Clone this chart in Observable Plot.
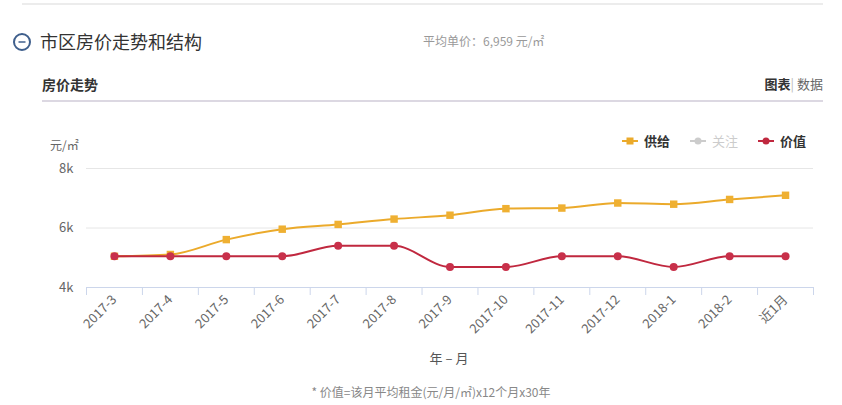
<!DOCTYPE html>
<html>
<head>
<meta charset="utf-8">
<script src="https://cdn.jsdelivr.net/npm/d3@7"></script>
<script src="https://cdn.jsdelivr.net/npm/@observablehq/plot@0.6"></script>
<style>
  html, body { margin: 0; padding: 0; background: #fff; }
  body { width: 842px; height: 405px; position: relative; overflow: hidden;
         font-family: "Noto Sans CJK SC", "Noto Sans", sans-serif; color: #333; }
  .abs { position: absolute; white-space: nowrap; }
  #chart svg { position: absolute; left: 0; top: 110px; }
</style>
</head>
<body>
<div class="abs" style="left:22px;top:3px;width:801px;border-top:2px solid #ececec;"></div>
<svg class="abs" style="left:12px;top:32px" width="20" height="20">
  <circle cx="10" cy="10" r="8" fill="none" stroke="#3f5f8c" stroke-width="2"/>
  <line x1="6.5" y1="10" x2="13.5" y2="10" stroke="#3f5f8c" stroke-width="1.5"/>
</svg>
<div class="abs" style="left:40px;top:29px;font-size:18px;line-height:24px;color:#333;">市区房价走势和结构</div>
<div class="abs" style="left:423px;top:33px;font-size:12px;line-height:16px;color:#999;">平均单价：6,959 元/㎡</div>
<div class="abs" style="left:42px;top:74px;font-size:14px;line-height:20px;font-weight:bold;color:#333;">房价走势</div>
<div class="abs" style="right:19px;top:75px;font-size:13px;line-height:18px;color:#666;"><b style="color:#333">图表</b><span style="color:#bbb">|</span> 数据</div>
<div class="abs" style="left:42px;top:100px;width:781px;height:2px;background:#dcd8e2;"></div>
<div class="abs" style="left:50px;top:137px;font-size:12px;line-height:16px;color:#666;">元/㎡</div>
<div id="legend" class="abs" style="left:622px;top:132px;font-size:13px;line-height:18px;"></div>
<div id="chart"></div>
<div class="abs" style="left:449px;top:349px;transform:translateX(-50%);font-size:13px;line-height:18px;color:#555;">年 – 月</div>
<div class="abs" style="left:431px;top:384px;transform:translateX(-50%);font-size:12px;line-height:16px;color:#888;">* 价值=该月平均租金(元/月/㎡)x12个月x30年</div>
<script>
const categories = ["2017-3","2017-4","2017-5","2017-6","2017-7","2017-8","2017-9","2017-10","2017-11","2017-12","2018-1","2018-2","近1月"];
const supplyValues = [5050, 5110, 5610, 5960, 6120, 6300, 6430, 6650, 6670, 6840, 6800, 6960, 7100];
const valueValues  = [5050, 5050, 5050, 5050, 5400, 5400, 4690, 4690, 5050, 5050, 4690, 5050, 5050];
const yTicks = [4000, 6000, 8000];
const seriesNames = ["供给", "关注", "价值"];
const seriesColors = ["#ebaa2b", "#cccccc", "#c0283f"];

const supply = categories.map((c, i) => ({month: c, v: supplyValues[i]}));
const value = categories.map((c, i) => ({month: c, v: valueValues[i]}));

const W = 842, H = 295, mL = 86, mR = 29, mT = 58, mB = 118;
const step = (W - mL - mR) / categories.length;

const chart = Plot.plot({
  width: W, height: H,
  marginLeft: mL, marginRight: mR, marginTop: mT, marginBottom: mB,
  style: {fontFamily: '"Noto Sans CJK SC", "Noto Sans", sans-serif', fontSize: "13px", color: "#666", background: "transparent"},
  x: {type: "point", domain: categories, padding: 0.5, round: false, tickSize: 0, tickPadding: 10, tickRotate: -45, label: null},
  y: {domain: [4000, 8000], ticks: yTicks, tickFormat: d => d / 1000 + "k", tickSize: 0, tickPadding: 13, label: null},
  marks: [
    Plot.ruleY([6000, 8000], {stroke: "#e6e6e6"}),
    Plot.ruleY([4000], {stroke: "#ccd6eb"}),
    Plot.ruleX(categories, {x: d => d, y1: 4000, y2: 4000, dx: -step / 2, insetBottom: -8, stroke: "#ccd6eb"}),
    Plot.ruleX([categories[categories.length - 1]], {x: d => d, y1: 4000, y2: 4000, dx: step / 2, insetBottom: -8, stroke: "#ccd6eb"}),
    Plot.line(supply, {x: "month", y: "v", stroke: seriesColors[0], strokeWidth: 2, curve: "monotone-x"}),
    Plot.dot(supply, {x: "month", y: "v", symbol: "square", r: 4.2, fill: "#efb032", stroke: null}),
    Plot.line(value, {x: "month", y: "v", stroke: seriesColors[2], strokeWidth: 2, curve: "monotone-x"}),
    Plot.dot(value, {x: "month", y: "v", r: 4, fill: "#c8304a", stroke: null})
  ]
});
document.getElementById("chart").appendChild(chart);

// legend
const legend = document.getElementById("legend");
const symbols = ["square", "circle", "circle"];
const offsets = [0, 68, 136];
seriesNames.forEach((name, i) => {
  const item = document.createElement("div");
  item.className = "abs";
  item.style.left = offsets[i] + "px";
  item.style.top = "0px";
  item.style.display = "flex";
  item.style.alignItems = "center";
  const mark = symbols[i] === "square"
    ? `<rect x="4.5" y="5.5" width="7" height="7" fill="${seriesColors[i]}"/>`
    : `<circle cx="8" cy="9" r="3.5" fill="${seriesColors[i]}"/>`;
  item.innerHTML = `<svg width="16" height="18"><line x1="0" y1="9" x2="16" y2="9" stroke="${seriesColors[i]}" stroke-width="2"/>${mark}</svg>` +
    `<span style="margin-left:6px;font-weight:${i === 1 ? "normal" : "bold"};color:${i === 1 ? "#cccccc" : "#333"}">${name}</span>`;
  legend.appendChild(item);
});
</script>
</body>
</html>
